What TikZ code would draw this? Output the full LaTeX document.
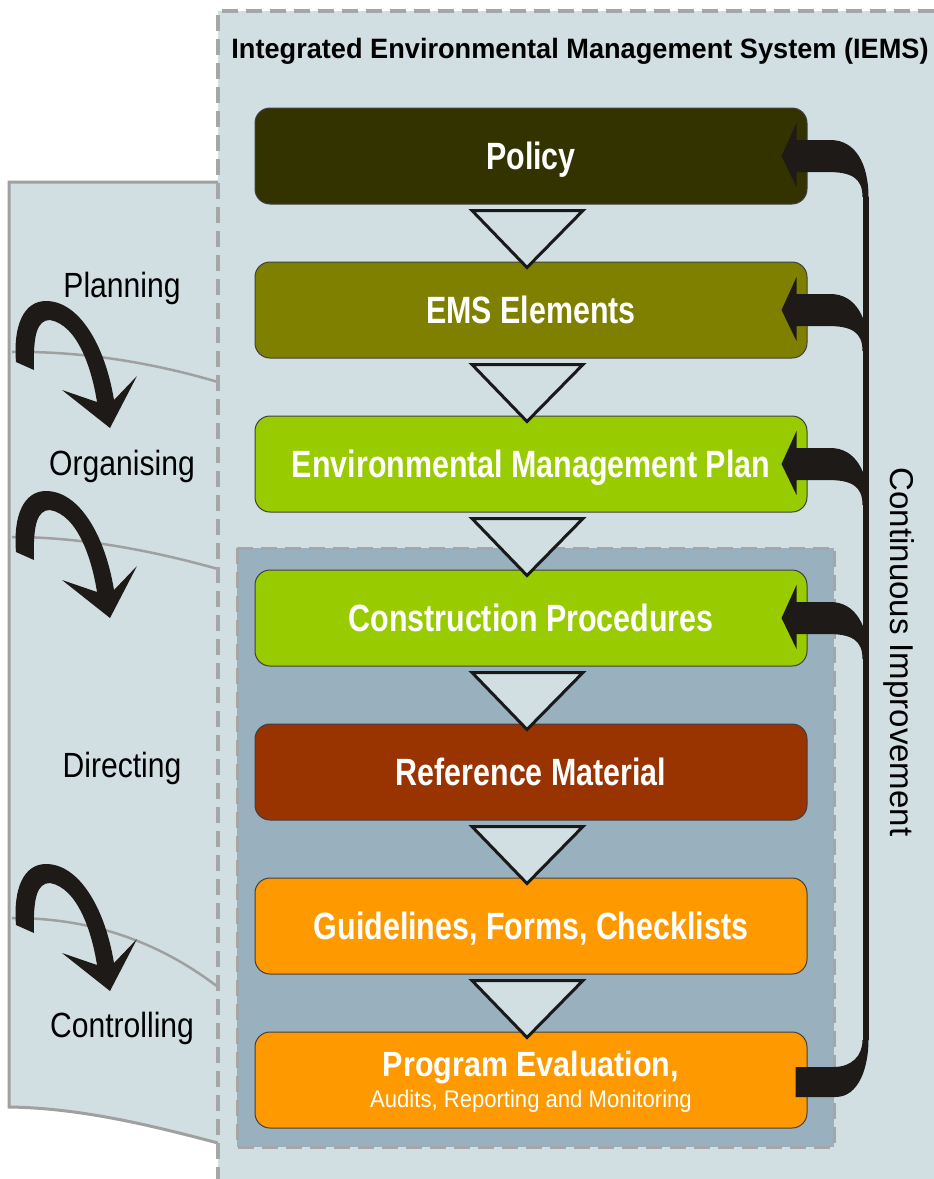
\documentclass[tikz,border=0pt]{standalone}
\usepackage{fontspec}
\setmainfont{Liberation Sans}
\newfontfamily\boxfont[FakeStretch=0.80]{Liberation Sans}
\newfontfamily\stagefont[FakeStretch=0.86]{Liberation Sans}
\newfontfamily\evalfont[FakeStretch=0.87]{Liberation Sans}
\newfontfamily\subfont[FakeStretch=0.92]{Liberation Sans}
\newfontfamily\headfont[FakeStretch=0.97]{Liberation Sans}
\usetikzlibrary{calc}

\definecolor{panelbg}{HTML}{D1DFE3}
\definecolor{innerbg}{HTML}{99B0BE}
\definecolor{dashgray}{HTML}{A6A6A6}
\definecolor{edgegray}{HTML}{A0A0A0}
\definecolor{loopblack}{HTML}{1E1A18}
\definecolor{policyc}{HTML}{333300}
\definecolor{emsc}{HTML}{808000}
\definecolor{limec}{HTML}{99CC00}
\definecolor{rustc}{HTML}{993300}
\definecolor{orangec}{HTML}{FF9900}

\tikzset{
  stagebox/.style={rounded corners=15pt, minimum width=552pt, minimum height=96pt,
    draw=black!75, line width=1pt, text=white, inner sep=0pt,
    font=\boxfont\bfseries\fontsize{38}{40}\selectfont,
    text height=27pt, text depth=0pt},
  stagelabel/.style={anchor=base, text=black, inner sep=0pt,
    font=\stagefont\fontsize{35}{38}\selectfont},
  flowtri/.style={draw=black!90, line width=3pt, fill=panelbg, line join=miter},
  dashedframe/.style={draw=dashgray, line width=4pt, dash pattern=on 16pt off 8pt},
  pics/feedback/.style={code={
    \fill[loopblack] (-26,0) -- (-11,-33) -- (-11,-16) -- (23,-16)
      .. controls (48,-16) and (61,8) .. (61,41) -- (55,41)
      .. controls (55,22) and (44,16) .. (20,16) -- (-11,16) -- (-11,31) -- cycle;
  }},
  pics/cycarrow/.style={code={
    \fill[loopblack] (97,402) .. controls (92,370) and (78,325) .. (50,320)
      .. controls (37,320) and (33,335) .. (34,370) -- (16,362)
      .. controls (13,325) and (24,301) .. (46,301)
      .. controls (79,301) and (105,345) .. (114,400)
      -- (137,376) -- (110,428) -- (62,390) -- cycle;
  }},
}

\begin{document}
\begin{tikzpicture}[x=1pt,y=-1pt]
\useasboundingbox (0,0) rectangle (934,1179);

% left management-functions panel
\fill[panelbg] (9,182) -- (218,182) -- (218,1143)
  .. controls (150,1125) and (80,1108) .. (9,1107) -- cycle;
\draw[edgegray, line width=3pt] (218,182) -- (9,182) -- (9,1107)
  .. controls (80,1108) and (150,1125) .. (218,1143);
\draw[edgegray, line width=2.5pt] (12,352) .. controls (80,351) and (150,362) .. (218,382);
\draw[edgegray, line width=2.5pt] (12,537) .. controls (80,537) and (150,550) .. (218,569);
\draw[edgegray, line width=2.5pt] (12,918) .. controls (80,918) and (150,935) .. (218,987);

% IEMS frame
\fill[panelbg] (218,11) rectangle (934,1179);
\draw[dashedframe] (934,11) -- (218,11) -- (218,1179);
\node[anchor=base, inner sep=0pt, font=\headfont\bfseries\fontsize{28}{30}\selectfont]
  (title) at (580,58) {Integrated Environmental Management System (IEMS)};

% operational frame
\fill[innerbg] (237,548) rectangle (834,1147);
\draw[dashedframe, line width=3pt] (237,548) rectangle (834,1147);

% stages
\node[stagebox, fill=policyc] (policy) at (531,156) {Policy};
\node[stagebox, fill=emsc]    (ems)    at (531,310) {EMS Elements};
\node[stagebox, fill=limec]   (emp)    at (531,464) {Environmental Management Plan};
\node[stagebox, fill=limec]   (cproc)  at (531,618) {Construction Procedures};
\node[stagebox, fill=rustc]   (refmat) at (531,772) {Reference Material};
\node[stagebox, fill=orangec] (guide)  at (531,926) {Guidelines, Forms, Checklists};
\node[stagebox, fill=orangec] (prog)   at (531,1080) {};
\node[anchor=base, inner sep=0pt, text=white, font=\evalfont\bfseries\fontsize{35}{37}\selectfont]
  (progtitle) at ([yshift=4pt]prog.center) {Program Evaluation,};
\node[anchor=base, inner sep=0pt, text=white, font=\subfont\fontsize{24}{26}\selectfont]
  (progsub) at ([yshift=-27pt]prog.center) {Audits, Reporting and Monitoring};

% flow triangles between stages
\foreach \a/\b in {policy/ems,ems/emp,emp/cproc,cproc/refmat,refmat/guide,guide/prog}
  \draw[flowtri] ([shift={(-59,6)}]\a.south) -- ([shift={(52,6)}]\a.south)
    -- ([shift={(-4,6)}]\b.north) -- cycle;

% continuous improvement loop
\coordinate (loopTop) at ([shift={(58,41)}]policy.east);
\coordinate (loopBot) at ([shift={(58,-40)}]prog.east);
\draw[loopblack, line width=6pt] (loopTop) -- (loopBot);
\foreach \n in {policy,ems,emp,cproc}
  \pic at (\n.east) {feedback};
\fill[loopblack] ([shift={(-12,-13)}]prog.east) -- ([shift={(26,-13)}]prog.east)
  .. controls ([shift={(44,-13)}]prog.east) and ([shift={(55,-24)}]prog.east) .. ([shift={(-3,0)}]loopBot)
  -- ([shift={(3,0)}]loopBot)
  .. controls ([shift={(61,-14)}]prog.east) and ([shift={(52,17)}]prog.east) .. ([shift={(28,17)}]prog.east)
  -- ([shift={(-12,17)}]prog.east) -- cycle;
\node[anchor=base, rotate=-90, inner sep=0pt, font=\fontsize{33}{36}\selectfont]
  (ci) at (890,652) {Continuous Improvement};

% management functions
\node[stagelabel] (planning)    at (122,297)  {Planning};
\node[stagelabel] (organising)  at (122,475)  {Organising};
\node[stagelabel] (directing)   at (122,777)  {Directing};
\node[stagelabel] (controlling) at (122,1037) {Controlling};
\pic at (0,0)   {cycarrow};
\pic at (0,190) {cycarrow};
\pic at (0,563) {cycarrow};
\end{tikzpicture}
\end{document}
